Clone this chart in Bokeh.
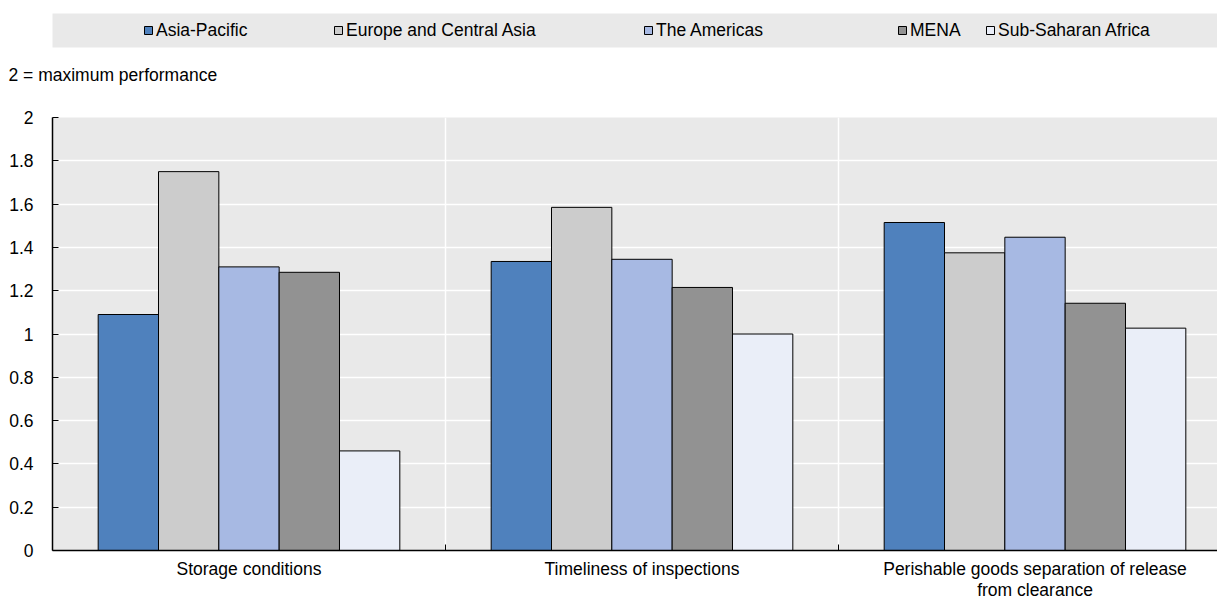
import numpy as np
from bokeh.plotting import figure
from bokeh.models import Range1d, FixedTicker, Legend, LegendItem, Title, ColumnDataSource
from bokeh.transform import dodge
from bokeh.layouts import column
from bokeh.embed import file_html
from bokeh.resources import INLINE

categories = ["Storage conditions", "Timeliness of inspections",
              "Perishable goods separation of release\nfrom clearance"]
regions = ["Asia-Pacific", "Europe and Central Asia", "The Americas", "MENA", "Sub-Saharan Africa"]
asia_pacific = [1.09, 1.335, 1.515]
europe_central_asia = [1.75, 1.585, 1.375]
the_americas = [1.31, 1.345, 1.447]
mena = [1.285, 1.215, 1.142]
sub_saharan_africa = [0.46, 1.0, 1.027]
colors = ["#4f81bd", "#cccccc", "#a7b9e3", "#929292", "#eaeef8"]
y_ticks = [0, 0.2, 0.4, 0.6, 0.8, 1.0, 1.2, 1.4, 1.6, 1.8, 2.0]
y_tick_labels = ["0", "0.2", "0.4", "0.6", "0.8", "1", "1.2", "1.4", "1.6", "1.8", "2"]
note = "2 = maximum performance"

FONT = "Liberation Sans"
FS = "17.5px"

series = [asia_pacific, europe_central_asia, the_americas, mena, sub_saharan_africa]
cat_pos = [i + 0.5 for i in range(len(categories))]
data = dict(x=cat_pos)
keys = ["s%d" % i for i in range(len(regions))]
for k, s in zip(keys, series):
    data[k] = s
src = ColumnDataSource(data)

FW, FH = 1165, 433
x_end = FW / 393

# ---------------- header: legend band (its frame) with the note below it ----------------
lg = figure(frame_width=FW, frame_height=34, output_backend="svg", toolbar_location=None,
            x_range=Range1d(0, 1), y_range=Range1d(0, 1),
            min_border_left=52, min_border_right=0, min_border_top=13, min_border_bottom=0)
lg.background_fill_color = "#e9e9e9"
lg.border_fill_color = "white"
lg.outline_line_color = None
lg.axis.visible = False
lg.grid.visible = False
legend_x = [91, 281, 591, 845, 933]
for name, c, lx in zip(regions, colors, legend_x):
    # proxy glyph with no drawable coordinates, only used for the legend swatch
    r = lg.vbar(x=np.array([np.nan]), top=np.array([np.nan]), bottom=np.array([np.nan]),
                width=0.1, fill_color=c, line_color="black", line_width=1)
    leg = Legend(items=[LegendItem(label=name, renderers=[r])], location=(lx, 5),
                 glyph_width=10, glyph_height=10, label_standoff=3, padding=0, margin=0,
                 spacing=0, background_fill_alpha=0, border_line_color=None,
                 label_text_font=FONT, label_text_font_size=FS, label_text_color="black",
                 label_height=24)
    lg.add_layout(leg, "center")
lg.add_layout(Title(text=note, align="left", offset=-44, standoff=30,
                    text_font=FONT, text_font_size=FS, text_font_style="normal",
                    text_color="black"), "below")

# ---------------- main chart ----------------
p = figure(frame_width=FW, frame_height=FH, output_backend="svg", toolbar_location=None,
           x_range=Range1d(0, x_end), y_range=Range1d(0, 2),
           min_border_left=52, min_border_right=0, min_border_top=18, min_border_bottom=0)
p.background_fill_color = "#e9e9e9"
p.border_fill_color = "white"
p.outline_line_color = None

bw = 0.1535
for i, (k, c) in enumerate(zip(keys, colors)):
    off = (i - 2) * bw
    p.vbar(x=dodge("x", off, range=p.x_range), top=k, width=bw, bottom=0, source=src,
           fill_color=c, line_color="black", line_width=1)

p.xaxis.ticker = FixedTicker(ticks=cat_pos, minor_ticks=[1, 2])
p.xaxis.major_label_overrides = {cp: c for cp, c in zip(cat_pos, categories)}
p.xaxis.major_tick_line_color = None
p.xaxis.minor_tick_in = 6
p.xaxis.minor_tick_out = 0
p.xaxis.minor_tick_line_color = "black"
p.xaxis.axis_line_color = "black"
p.xaxis.axis_line_width = 1.5
p.xaxis.major_label_standoff = 2
p.xaxis.major_label_text_font = FONT
p.xaxis.major_label_text_font_size = FS
p.xaxis.major_label_text_color = "black"
p.xaxis.major_label_text_line_height = 1.08

p.yaxis.ticker = FixedTicker(ticks=y_ticks)
p.yaxis.major_label_overrides = {t: l for t, l in zip(y_ticks, y_tick_labels)}
p.yaxis.minor_tick_line_color = None
p.yaxis.major_tick_in = 6
p.yaxis.major_tick_out = 0
p.yaxis.major_tick_line_color = "black"
p.yaxis.axis_line_color = "black"
p.yaxis.axis_line_width = 1.5
p.yaxis.major_label_standoff = 19
p.yaxis.major_label_text_font = FONT
p.yaxis.major_label_text_font_size = FS
p.yaxis.major_label_text_color = "black"

p.xgrid.ticker = FixedTicker(ticks=[1, 2])
p.xgrid.grid_line_color = "white"
p.xgrid.grid_line_width = 1.5
p.ygrid.ticker = FixedTicker(ticks=y_ticks)
p.ygrid.grid_line_color = "white"
p.ygrid.grid_line_width = 1.5

layout = column(lg, p, spacing=0)
open("out.html", "w").write(file_html(layout, INLINE))
